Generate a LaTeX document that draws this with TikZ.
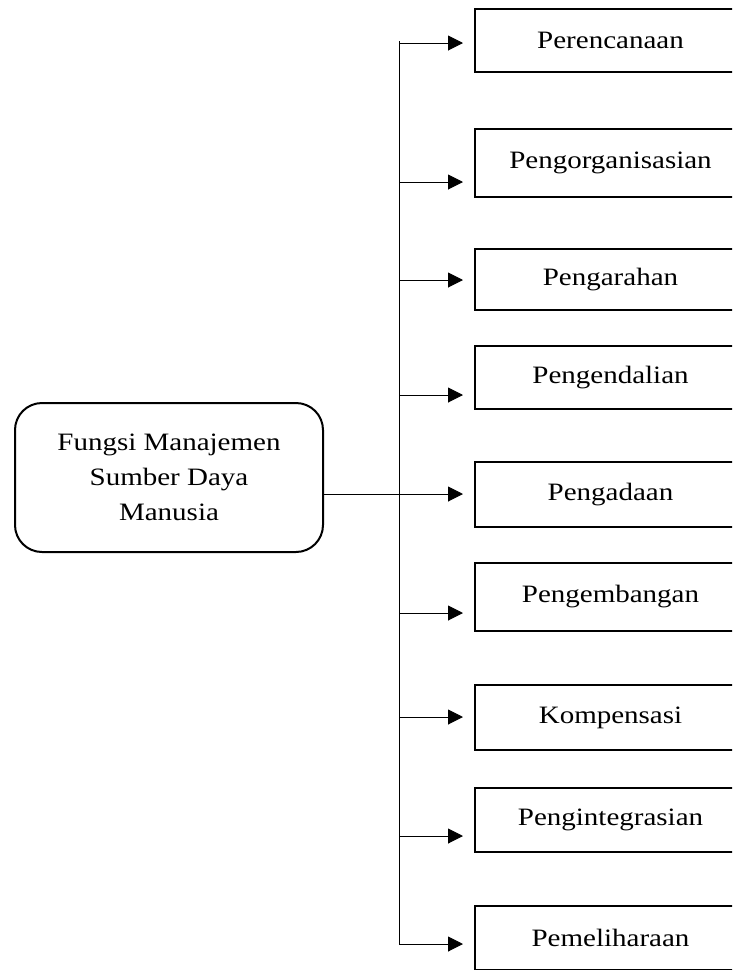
\documentclass[tikz,border=0pt]{standalone}
\usepackage{fontspec}
\setmainfont[FakeStretch=1.16]{Liberation Serif}
\usetikzlibrary{positioning,arrows.meta}

\begin{document}
\begin{tikzpicture}[x=1pt, y=-1pt,
    kotak/.style={rectangle, draw=black, line width=2pt, anchor=north west,
              minimum width=271pt, align=center, inner sep=0pt,
              font=\fontsize{25}{35}\selectfont},
    pusat/.style={rectangle, draw=black, line width=2pt, rounded corners=27pt,
              minimum width=308pt, minimum height=149pt, align=center,
              font=\fontsize{25}{35}\selectfont},
    garis/.style={line width=1pt},
    a/.style={-{Triangle[length=15pt, width=15pt]}, line width=1pt, shorten >=11pt}
]
    \useasboundingbox (0,0) rectangle (732,970);
    \clip (0,0) rectangle (732,970);

    \node[pusat] (fmsdm) at (169,477.5) {Fungsi Manajemen\\ Sumber Daya\\ Manusia};

    \node[kotak, minimum height=63pt] (p1) at (474,8) {Perencanaan};
    \node[kotak, minimum height=68pt] (p2) at (474,128) {Pengorganisasian};
    \node[kotak, minimum height=61pt] (p3) at (474,248) {Pengarahan};
    \node[kotak, minimum height=63pt] (p4) at (474,345) {Pengendalian};
    \node[kotak, minimum height=65pt] (p5) at (474,461) {Pengadaan};
    \node[kotak, minimum height=68pt] (p6) at (474,562) {Pengembangan};
    \node[kotak, minimum height=65pt] (p7) at (474,684) {Kompensasi};
    \node[kotak, minimum height=64pt] (p8) at (474,787) {Pengintegrasian};
    \node[kotak, minimum height=64pt] (p9) at (474,905) {Pemeliharaan};

    % cabang ke tiap fungsi
    \foreach \y [count=\i] in {43,182,280,395,494,613,717,836,944} {
        \coordinate (c\i) at (399,\y);
        \draw[a] (c\i) -- (c\i -| p\i.west);
    }
    \coordinate (atas) at (399,41);
    \draw[garis] (atas) -- (c9);
    \draw[garis] (fmsdm.east |- c5) -- (c5);
\end{tikzpicture}
\end{document}
